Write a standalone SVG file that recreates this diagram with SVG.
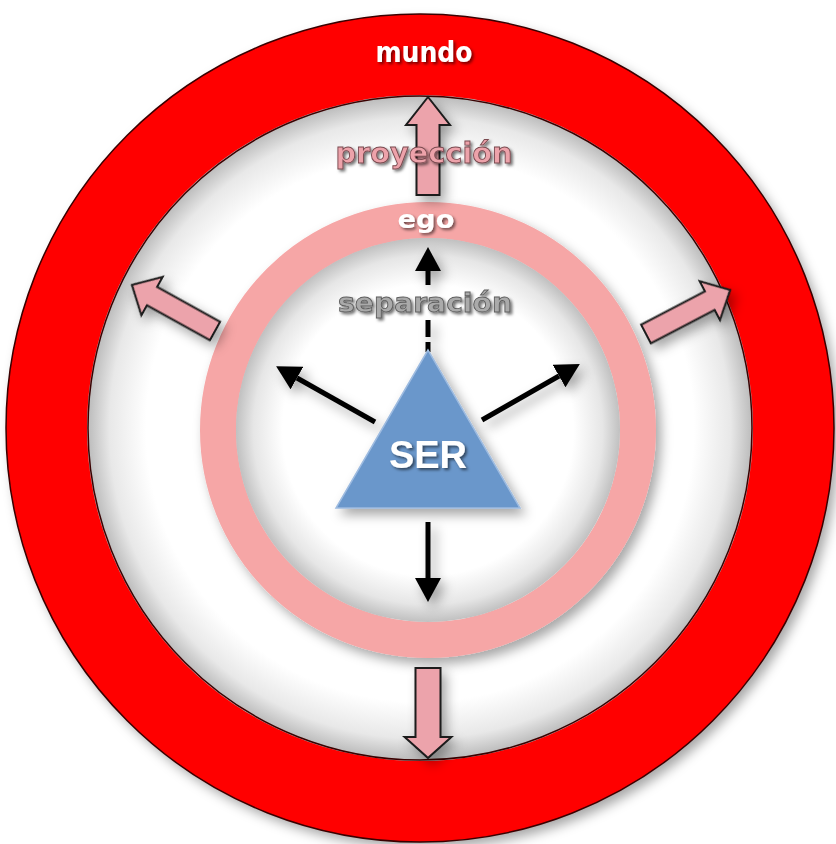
<svg xmlns="http://www.w3.org/2000/svg" width="836" height="844" viewBox="0 0 836 844">
  <style>
    .block { fill: #eca3ab; stroke: #1a1a1a; stroke-width: 2; stroke-linejoin: miter; }
    .black { stroke: #000; stroke-width: 5; fill: none; }
    .lbl { font-family: "DejaVu Sans", Verdana, sans-serif; font-weight: bold; text-anchor: middle; }
  </style>
  <defs>
    <radialGradient id="gWorld" cx="420" cy="428" r="334" gradientUnits="userSpaceOnUse">
      <stop offset="0" stop-color="#ffffff"/>
      <stop offset="0.82" stop-color="#ffffff"/>
      <stop offset="0.93" stop-color="#e8e8e8"/>
      <stop offset="1" stop-color="#b8b8b8"/>
    </radialGradient>
    <radialGradient id="gInner" cx="428" cy="430" r="194" gradientUnits="userSpaceOnUse">
      <stop offset="0" stop-color="#ffffff"/>
      <stop offset="0.75" stop-color="#ffffff"/>
      <stop offset="0.9" stop-color="#e6e6e6"/>
      <stop offset="1" stop-color="#bcbcbc"/>
    </radialGradient>
    <filter id="soft" x="-20%" y="-20%" width="140%" height="140%">
      <feDropShadow dx="5" dy="6" stdDeviation="6" flood-color="#000" flood-opacity="0.35"/>
    </filter>
    <filter id="txt" x="-20%" y="-40%" width="140%" height="180%">
      <feDropShadow dx="2" dy="2" stdDeviation="1.5" flood-color="#000" flood-opacity="0.55"/>
    </filter>
    <marker id="head" viewBox="0 0 24 26" refX="0" refY="13" markerWidth="24" markerHeight="26" markerUnits="userSpaceOnUse" orient="auto">
      <path d="M0,0 L24,13 L0,26 Z" fill="#000"/>
    </marker>
  </defs>

  <rect width="836" height="844" fill="#ffffff"/>

  <g id="mundo">
    <circle cx="420" cy="428" r="373" fill="none" stroke="#ff0000" stroke-width="82" filter="url(#soft)"/>
    <circle cx="420" cy="428" r="333" fill="url(#gWorld)"/>
    <circle cx="420" cy="428" r="414" fill="none" stroke="#3a0000" stroke-width="1.5"/>
    <circle cx="420" cy="428" r="332" fill="none" stroke="#3a0000" stroke-width="1.5"/>
    <text class="lbl" x="424" y="62" font-size="28" fill="#ffffff" filter="url(#txt)" textLength="97" lengthAdjust="spacingAndGlyphs">mundo</text>
  </g>

  <g id="ego">
    <circle cx="428" cy="430" r="210" fill="none" stroke="#f6a6a6" stroke-width="36" filter="url(#soft)"/>
    <circle cx="428" cy="430" r="192" fill="url(#gInner)"/>
    <text class="lbl" x="426" y="228" font-size="25" fill="#ffffff" filter="url(#txt)" textLength="57" lengthAdjust="spacingAndGlyphs">ego</text>
  </g>

  <g id="connectors">
    <g filter="url(#soft)">
      <path class="block" transform="translate(428,195) rotate(-90)" d="M0,-11.5 L70,-11.5 L70,-22 L98,0 L70,22 L70,11.5 L0,11.5 Z"/>
      <path class="block" transform="translate(428,668) rotate(90)" d="M0,-12.5 L69,-12.5 L69,-23.5 L90,0 L69,23.5 L69,12.5 L0,12.5 Z"/>
      <path class="block" transform="translate(215,331) rotate(209)" d="M0,-10.5 L72,-10.5 L72,-22 L95,0 L72,22 L72,10.5 L0,10.5 Z"/>
      <path class="block" transform="translate(646,334) rotate(-27.6)" d="M0,-10.5 L72,-10.5 L72,-22 L95,0 L72,22 L72,10.5 L0,10.5 Z"/>
    </g>
    <g filter="url(#soft)">
      <line class="black" x1="428" y1="285" x2="428" y2="271" marker-end="url(#head)"/>
      <line class="black" x1="428" y1="320" x2="428" y2="337"/>
      <line class="black" x1="428" y1="342" x2="428" y2="352"/>
      <line class="black" x1="375" y1="422" x2="297" y2="378" marker-end="url(#head)"/>
      <line class="black" x1="482" y1="420" x2="559" y2="376" marker-end="url(#head)"/>
      <line class="black" x1="428" y1="522" x2="428" y2="578" marker-end="url(#head)"/>
    </g>
    <text class="lbl" x="424" y="163" font-size="28" fill="#eda2aa" stroke="#7a4a50" stroke-width="0.9" filter="url(#txt)" textLength="177" lengthAdjust="spacingAndGlyphs">proyección</text>
    <text class="lbl" x="425" y="312" font-size="27" fill="#aaaaaa" stroke="#5e5e5e" stroke-width="0.9" filter="url(#txt)" textLength="174" lengthAdjust="spacingAndGlyphs">separación</text>
  </g>

  <g id="ser">
    <polygon points="428,350 336,508 520,508" fill="#6b97cb" stroke="#9dbbe0" stroke-width="1.5" filter="url(#soft)"/>
    <text x="428" y="468" font-family="'Liberation Sans', Arial, sans-serif" font-weight="bold" font-size="38" fill="#ffffff" text-anchor="middle" filter="url(#txt)">SER</text>
  </g>
</svg>
